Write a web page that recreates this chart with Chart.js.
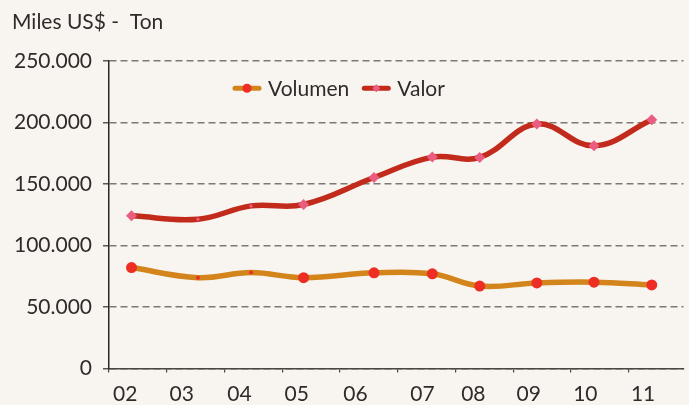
<!DOCTYPE html>
<html>
<head>
<meta charset="utf-8">
<script src="https://cdn.jsdelivr.net/npm/chart.js@4.4.1/dist/chart.umd.min.js"></script>
<style>
  html, body { margin: 0; padding: 0; background: #f8f5f0; }
  #contenedor { width: 689px; height: 405px; }
</style>
</head>
<body>
<div id="contenedor"><canvas id="grafico"></canvas></div>
<script>
  // Datos
  const anios = ['02', '03', '04', '05', '06', '07', '08', '09', '10', '11'];
  const posPuntos = [0.39, 1.54, 2.46, 3.37, 4.59, 5.60, 6.42, 7.41, 8.40, 9.40];
  const posEtiquetas = [0.28, 1.26, 2.26, 3.25, 4.27, 5.43, 6.31, 7.27, 8.25, 9.25];
  const volumen = [82100, 73900, 78000, 73900, 77800, 77000, 67100, 69600, 70200, 68000];
  const valor = [124200, 121500, 132300, 133400, 155400, 172000, 171700, 198900, 181200, 202400];
  const ticksY = [0, 50000, 100000, 150000, 200000, 250000];

  const fuente = { family: 'Lato', size: 21 };
  const colorTexto = '#2e2b29';

  function miles(v) {
    return String(v).replace(/\B(?=(\d{3})+(?!\d))/g, '.');
  }

  // fondo del lienzo
  const fondo = {
    id: 'fondo',
    beforeDraw(chart) {
      const c = chart.ctx;
      c.save();
      c.fillStyle = '#f8f5f0';
      c.fillRect(0, 0, chart.width, chart.height);
      c.restore();
    }
  };

  // leyenda dentro del area del grafico (linea + marcador)
  const leyenda = {
    id: 'leyenda',
    afterDraw(chart, args, opts) {
      const c = chart.ctx;
      let x = chart.chartArea.left + opts.dx;
      const y = chart.chartArea.top + opts.dy;
      c.save();
      c.font = fuente.size + 'px ' + fuente.family;
      c.textBaseline = 'middle';
      chart.data.datasets.forEach(ds => {
        c.strokeStyle = ds.borderColor;
        c.lineWidth = 5;
        c.lineCap = 'round';
        c.beginPath();
        c.moveTo(x + 2, y);
        c.lineTo(x + 26, y);
        c.stroke();
        c.fillStyle = ds.pointBackgroundColor;
        c.beginPath();
        if (ds.pointStyle === 'rectRot') {
          c.moveTo(x + 14, y - 4);
          c.lineTo(x + 18, y);
          c.lineTo(x + 14, y + 4);
          c.lineTo(x + 10, y);
        } else {
          c.arc(x + 14, y, 4.5, 0, Math.PI * 2);
        }
        c.fill();
        c.fillStyle = colorTexto;
        c.fillText(ds.label, x + 35, y + 1);
        x += 35 + c.measureText(ds.label).width + 13;
      });
      c.restore();
    }
  };

  const ctx = document.getElementById('grafico');
  new Chart(ctx, {
    type: 'line',
    data: {
      datasets: [{
        label: 'Volumen',
        data: posPuntos.map((p, i) => ({ x: p, y: volumen[i] })),
        borderColor: '#d3841b',
        borderWidth: 5.5,
        tension: 0.4,
        pointStyle: 'circle',
        pointRadius: [5.5, 2, 2, 5.5, 5.5, 5.5, 5.5, 5.5, 5.5, 5.5],
        pointBackgroundColor: '#ee2e24',
        pointBorderWidth: 0
      }, {
        label: 'Valor',
        data: posPuntos.map((p, i) => ({ x: p, y: valor[i] })),
        borderColor: '#c22b1b',
        borderWidth: 5.5,
        tension: 0.4,
        pointStyle: 'rectRot',
        pointRadius: [5.5, 2, 2, 5.5, 5.5, 5.5, 5.5, 5.5, 5.5, 5.5],
        pointBackgroundColor: '#ea5c80',
        pointBorderWidth: 0
      }]
    },
    options: {
      responsive: true,
      maintainAspectRatio: false,
      animation: false,
      layout: { padding: { left: 12, right: 0, top: 0, bottom: 0 } },
      plugins: {
        legend: { display: false },
        tooltip: { enabled: false },
        title: {
          display: true,
          text: 'Miles US$ -  Ton',
          align: 'start',
          color: colorTexto,
          font: { family: 'Lato', size: 21, weight: 'normal' },
          padding: { top: 10, bottom: 26 }
        },
        leyenda: { dx: 124, dy: 27 }
      },
      scales: {
        x: {
          type: 'linear',
          min: 0,
          max: 9.95,
          position: 'bottom',
          weight: 0,
          afterBuildTicks: s => { s.ticks = anios.map((a, i) => ({ value: i })); },
          afterFit: s => { s.height = 4; },
          ticks: { display: false },
          grid: { drawOnChartArea: false, tickLength: 4, color: '#4a4643', lineWidth: 1.2 },
          border: { color: '#4a4643', width: 1.5 }
        },
        xEt: {
          type: 'linear',
          min: 0,
          max: 9.95,
          position: 'bottom',
          weight: 1,
          afterBuildTicks: s => { s.ticks = posEtiquetas.map(v => ({ value: v })); },
          afterFit: s => { s.height = 32.5; },
          ticks: {
            callback: (v, i) => anios[i],
            autoSkip: false,
            maxRotation: 0,
            padding: 1,
            color: colorTexto,
            font: fuente
          },
          grid: { display: false },
          border: { display: false }
        },
        y: {
          min: 0,
          max: 250000,
          afterBuildTicks: s => { s.ticks = ticksY.map(v => ({ value: v })); },
          afterFit: s => { s.width = 97; },
          ticks: {
            callback: v => miles(v),
            padding: 11,
            color: colorTexto,
            font: fuente
          },
          grid: { color: '#7d7873', lineWidth: 1.5, tickLength: 6, tickColor: '#5a5653' },
          border: { color: '#2a2725', width: 1.5, dash: [7, 4] }
        }
      }
    },
    plugins: [fondo, leyenda]
  });
</script>
</body>
</html>
